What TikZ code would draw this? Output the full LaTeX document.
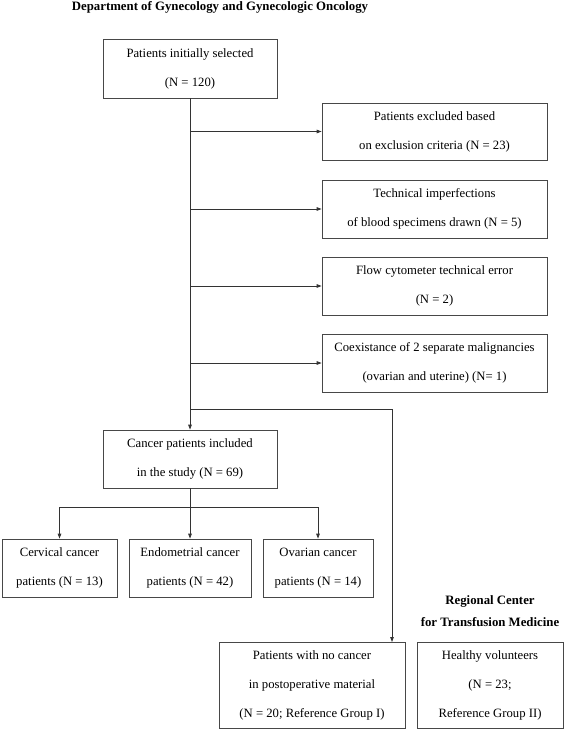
\documentclass[tikz,border=0pt]{standalone}
\usepackage{fontspec}
\setmainfont{Liberation Serif}
\usetikzlibrary{arrows.meta}
\tikzset{
  box/.style={draw=black!72, line width=0.8pt, inner sep=0pt, align=center,
    font=\fontsize{12.7pt}{29pt}\selectfont},
  head/.style={font=\fontsize{12.8pt}{22pt}\selectfont\bfseries, align=center, inner sep=0pt},
  conn/.style={draw=black!80, line width=0.8pt},
  arr/.style={conn, -{Triangle[length=5pt,width=3.6pt]}}
}
\begin{document}
\begin{tikzpicture}[x=1pt,y=-1pt]
\useasboundingbox (0,0) rectangle (567,730);
\node[head] (title) at (220,7) {Department of Gynecology and Gynecologic Oncology};
\node[box, minimum width=174pt, minimum height=59pt] (top) at (190,68.5) {Patients initially selected\\(N = 120)};
\node[box, minimum width=225pt, minimum height=57pt] (exA) at (434.5,131.5) {Patients excluded based\\on exclusion criteria (N = 23)};
\node[box, minimum width=225pt, minimum height=58pt] (exB) at (434.5,209) {Technical imperfections\\of blood specimens drawn (N = 5)};
\node[box, minimum width=225pt, minimum height=58pt] (exC) at (434.5,286) {Flow cytometer technical error\\(N = 2)};
\node[box, minimum width=225pt, minimum height=58pt] (exD) at (434.5,363) {Coexistance of 2 separate malignancies\\(ovarian and uterine) (N= 1)};
\node[box, minimum width=174pt, minimum height=58pt] (cancer) at (190,459) {Cancer patients included\\in the study (N = 69)};
\node[box, minimum width=115pt, minimum height=58pt] (cerv) at (59.5,568) {Cervical cancer\\patients (N = 13)};
\node[box, minimum width=122pt, minimum height=58pt] (endo) at (190,568) {Endometrial cancer\\patients (N = 42)};
\node[box, minimum width=110pt, minimum height=58pt] (ovar) at (318,568) {Ovarian cancer\\patients (N = 14)};
\node[head] (regional) at (490,611) {Regional Center\\for Transfusion Medicine};
\node[box, minimum width=186pt, minimum height=86pt] (nocancer) at (312,685) {Patients with no cancer\\in postoperative material\\(N = 20; Reference Group I)};
\node[box, minimum width=146pt, minimum height=86pt] (healthy) at (490,685) {Healthy volunteers\\(N = 23;\\Reference Group II)};
\coordinate (br) at (190,409);
\coordinate (split) at (190,507);
\coordinate (ncin) at (392,642);
\draw[arr] (top.south) -- (cancer.north);
\draw[arr] (top.south |- exA.west) -- (exA.west);
\draw[arr] (top.south |- exB.west) -- (exB.west);
\draw[arr] (top.south |- exC.west) -- (exC.west);
\draw[arr] (top.south |- exD.west) -- (exD.west);
\draw[arr] (br) -| (ncin);
\draw[arr] (cancer.south) -- (endo.north);
\draw[arr] (split) -| (cerv.north);
\draw[arr] (split) -| (ovar.north);
\end{tikzpicture}
\end{document}
